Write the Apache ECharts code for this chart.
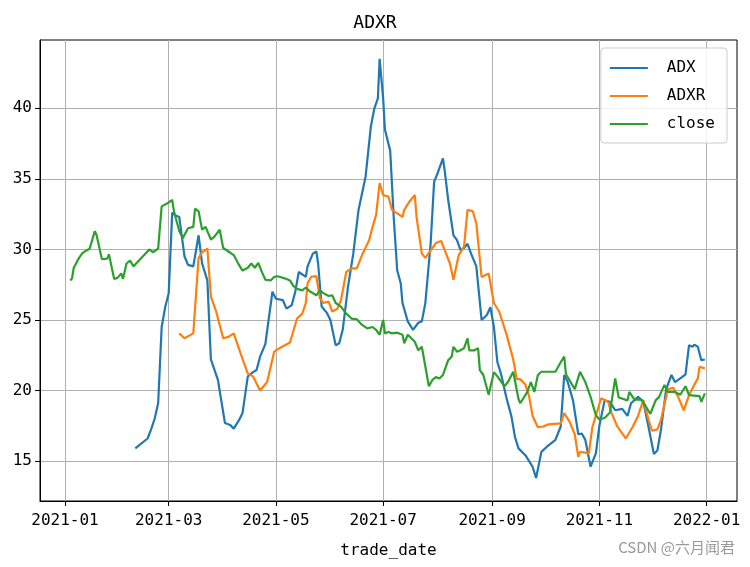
<!DOCTYPE html>
<html>
<head>
<meta charset="utf-8">
<script src="https://cdn.jsdelivr.net/npm/echarts@6/dist/echarts.min.js"></script>
<style>
html,body{margin:0;padding:0;background:#fff;}
#chart{width:750px;height:567px;}
</style>
</head>
<body>
<div id="chart"></div>
<script>
// ---------- data ----------
const seriesNames = ['ADX', 'ADXR', 'close'];

const adxDates = ['2021-02-10','2021-02-17','2021-02-19','2021-02-21','2021-02-23','2021-02-25','2021-02-27','2021-03-01','2021-03-03','2021-03-05','2021-03-07','2021-03-10','2021-03-12','2021-03-15','2021-03-18','2021-03-20','2021-03-23','2021-03-25','2021-03-29','2021-04-02','2021-04-05','2021-04-07','2021-04-10','2021-04-12','2021-04-15','2021-04-18','2021-04-20','2021-04-22','2021-04-25','2021-04-29','2021-05-01','2021-05-05','2021-05-07','2021-05-10','2021-05-12','2021-05-14','2021-05-18','2021-05-19','2021-05-22','2021-05-24','2021-05-25','2021-05-27','2021-05-30','2021-06-01','2021-06-04','2021-06-06','2021-06-08','2021-06-11','2021-06-14','2021-06-17','2021-06-21','2021-06-24','2021-06-26','2021-06-28','2021-06-29','2021-07-01','2021-07-02','2021-07-05','2021-07-07','2021-07-09','2021-07-11','2021-07-12','2021-07-15','2021-07-18','2021-07-21','2021-07-23','2021-07-25','2021-07-28','2021-07-30','2021-08-01','2021-08-04','2021-08-05','2021-08-07','2021-08-10','2021-08-12','2021-08-14','2021-08-16','2021-08-18','2021-08-20','2021-08-23','2021-08-26','2021-08-29','2021-08-31','2021-09-02','2021-09-04','2021-09-06','2021-09-09','2021-09-12','2021-09-14','2021-09-16','2021-09-20','2021-09-24','2021-09-26','2021-09-29','2021-10-02','2021-10-07','2021-10-10','2021-10-12','2021-10-14','2021-10-17','2021-10-20','2021-10-22','2021-10-24','2021-10-27','2021-10-30','2021-11-01','2021-11-04','2021-11-07','2021-11-10','2021-11-14','2021-11-17','2021-11-19','2021-11-23','2021-11-26','2021-11-29','2021-12-02','2021-12-04','2021-12-06','2021-12-09','2021-12-12','2021-12-14','2021-12-18','2021-12-20','2021-12-22','2021-12-24','2021-12-25','2021-12-27','2021-12-29','2021-12-31'];
const adxValues = [15.9,16.6,17.25,18.0,19.1,24.5,25.9,26.9,32.6,32.4,32.3,29.5,28.9,28.8,31.0,29.0,27.8,22.2,20.75,17.7,17.55,17.3,17.9,18.4,21.0,21.3,21.45,22.4,23.3,27.0,26.5,26.4,25.8,26.05,27.0,28.4,28.05,28.8,29.7,29.85,29.0,25.95,25.5,25.0,23.2,23.35,24.3,27.35,29.7,32.8,35.15,38.7,40.0,40.7,43.5,40.7,38.5,37.0,32.3,28.5,27.6,26.2,24.9,24.3,24.8,24.9,26.2,30.4,34.8,35.4,36.45,35.6,33.5,31.0,30.65,29.95,30.1,30.4,29.7,28.8,25.0,25.35,25.9,24.5,22.0,21.2,19.55,18.15,16.7,15.9,15.4,14.6,13.8,15.65,16.0,16.5,17.45,21.1,20.6,19.3,16.9,16.95,16.5,14.6,15.55,17.5,19.3,19.2,18.6,18.7,18.2,19.1,19.55,19.2,17.4,15.5,15.75,17.2,20.1,21.1,20.6,20.95,21.15,23.2,23.1,23.25,23.1,22.15,22.2];

const adxrDates = ['2021-03-07','2021-03-10','2021-03-15','2021-03-18','2021-03-20','2021-03-23','2021-03-25','2021-03-28','2021-04-01','2021-04-04','2021-04-07','2021-04-11','2021-04-15','2021-04-18','2021-04-22','2021-04-26','2021-04-30','2021-05-03','2021-05-09','2021-05-13','2021-05-16','2021-05-18','2021-05-19','2021-05-21','2021-05-24','2021-05-26','2021-05-28','2021-05-31','2021-06-02','2021-06-05','2021-06-07','2021-06-10','2021-06-13','2021-06-16','2021-06-19','2021-06-23','2021-06-25','2021-06-27','2021-06-29','2021-07-01','2021-07-04','2021-07-06','2021-07-09','2021-07-12','2021-07-13','2021-07-16','2021-07-19','2021-07-20','2021-07-23','2021-07-25','2021-07-29','2021-07-31','2021-08-03','2021-08-05','2021-08-08','2021-08-10','2021-08-13','2021-08-16','2021-08-18','2021-08-21','2021-08-23','2021-08-26','2021-08-30','2021-09-02','2021-09-05','2021-09-09','2021-09-13','2021-09-15','2021-09-17','2021-09-20','2021-09-22','2021-09-24','2021-09-27','2021-09-30','2021-10-03','2021-10-10','2021-10-12','2021-10-15','2021-10-18','2021-10-20','2021-10-21','2021-10-26','2021-10-28','2021-11-02','2021-11-06','2021-11-08','2021-11-11','2021-11-16','2021-11-20','2021-11-23','2021-11-26','2021-11-29','2021-12-01','2021-12-04','2021-12-06','2021-12-10','2021-12-13','2021-12-16','2021-12-19','2021-12-22','2021-12-25','2021-12-27','2021-12-28','2021-12-31'];
const adxrValues = [24.05,23.7,24.05,29.4,29.8,30.05,26.65,25.6,23.7,23.8,24.05,22.6,21.2,21.0,20.0,20.6,22.75,23.0,23.4,25.1,25.45,26.2,27.6,28.05,28.1,26.55,26.2,26.3,25.6,25.8,26.4,28.4,28.65,28.65,29.6,30.65,31.6,32.45,34.7,33.85,33.75,32.8,32.55,32.3,32.8,33.4,33.85,32.3,29.7,29.4,30.1,30.45,30.6,29.95,29.0,27.85,29.6,30.2,32.8,32.7,31.85,28.05,28.3,26.2,25.6,24.05,22.2,20.8,20.8,20.4,19.6,18.2,17.4,17.45,17.6,17.67,18.4,17.8,16.9,15.3,15.66,15.55,17.4,19.45,19.2,18.4,17.5,16.6,17.43,18.2,19.32,17.9,17.15,17.25,17.9,20.1,20.2,19.5,18.6,19.67,20.4,20.86,21.68,21.57];

const closeDates = ['2021-01-04','2021-01-05','2021-01-06','2021-01-07','2021-01-09','2021-01-11','2021-01-13','2021-01-15','2021-01-18','2021-01-19','2021-01-22','2021-01-25','2021-01-26','2021-01-29','2021-01-31','2021-02-02','2021-02-03','2021-02-05','2021-02-07','2021-02-09','2021-02-18','2021-02-20','2021-02-23','2021-02-25','2021-02-28','2021-03-03','2021-03-04','2021-03-07','2021-03-09','2021-03-12','2021-03-15','2021-03-16','2021-03-18','2021-03-20','2021-03-22','2021-03-25','2021-03-27','2021-03-30','2021-04-01','2021-04-04','2021-04-07','2021-04-10','2021-04-12','2021-04-15','2021-04-17','2021-04-19','2021-04-21','2021-04-23','2021-04-25','2021-04-28','2021-04-30','2021-05-02','2021-05-06','2021-05-09','2021-05-11','2021-05-13','2021-05-16','2021-05-18','2021-05-20','2021-05-24','2021-05-26','2021-05-28','2021-05-31','2021-06-02','2021-06-04','2021-06-07','2021-06-10','2021-06-13','2021-06-16','2021-06-19','2021-06-22','2021-06-25','2021-06-27','2021-06-29','2021-07-01','2021-07-02','2021-07-04','2021-07-06','2021-07-09','2021-07-12','2021-07-13','2021-07-15','2021-07-17','2021-07-19','2021-07-21','2021-07-23','2021-07-27','2021-07-29','2021-07-31','2021-08-02','2021-08-04','2021-08-05','2021-08-07','2021-08-09','2021-08-10','2021-08-12','2021-08-14','2021-08-16','2021-08-18','2021-08-19','2021-08-22','2021-08-24','2021-08-25','2021-08-27','2021-08-30','2021-09-02','2021-09-04','2021-09-08','2021-09-10','2021-09-13','2021-09-16','2021-09-17','2021-09-21','2021-09-23','2021-09-25','2021-09-27','2021-09-29','2021-10-07','2021-10-10','2021-10-12','2021-10-13','2021-10-18','2021-10-21','2021-10-24','2021-10-27','2021-10-30','2021-11-01','2021-11-04','2021-11-07','2021-11-10','2021-11-12','2021-11-17','2021-11-18','2021-11-21','2021-11-25','2021-11-30','2021-12-03','2021-12-05','2021-12-08','2021-12-10','2021-12-14','2021-12-17','2021-12-20','2021-12-22','2021-12-28','2021-12-29','2021-12-31'];
const closeValues = [27.8,27.95,28.7,28.8,29.4,29.75,29.9,30.05,31.3,31.0,29.3,29.35,29.65,27.9,28.0,28.3,27.9,29.0,29.2,28.8,30.0,29.8,30.05,33.05,33.25,33.5,32.7,31.3,30.8,31.5,31.6,32.9,32.7,31.4,31.6,30.7,30.9,31.4,30.1,29.85,29.6,28.9,28.5,28.7,29.0,28.7,29.05,28.4,27.85,27.8,28.05,28.1,27.95,27.8,27.4,27.2,27.1,27.3,27.05,26.75,27.1,26.9,26.7,26.75,26.2,25.95,25.45,25.1,25.05,24.65,24.4,24.5,24.3,23.95,25.0,24.05,24.15,24.05,24.1,23.95,23.35,23.95,23.7,23.45,22.85,23.1,20.3,20.75,20.95,20.85,21.1,21.45,22.15,22.4,23.1,22.75,22.85,23.0,23.7,22.85,22.85,23.0,21.45,21.1,19.7,21.3,21.0,20.3,20.6,21.33,19.4,19.1,19.9,20.6,19.9,21.1,21.33,21.33,22.0,22.4,21.15,20.1,21.33,20.6,19.55,18.25,17.95,18.05,18.45,20.85,19.5,19.3,19.9,19.35,19.35,18.35,19.3,19.55,20.4,19.9,19.9,19.7,20.3,19.67,19.6,19.2,19.8];

const yTicks = [15, 20, 25, 30, 35, 40];
const xTickLabels = ['2021-01', '2021-03', '2021-05', '2021-07', '2021-09', '2021-11', '2022-01'];
// ---------------------------------------------------

const colors = ['#1f77b4', '#ff7f0e', '#2ca02c'];
const FONT = 'DejaVu Sans Mono';

function toTime(s) {
  const p = s.split('-').map(Number);
  return new Date(p[0], p[1] - 1, p[2] || 1).getTime();
}
function pairs(dates, values) {
  return dates.map((d, i) => [toTime(d), values[i]]);
}
const xTickTimes = xTickLabels.map(toTime);

const chart = echarts.init(document.getElementById('chart'), null, {renderer: 'canvas'});
const option = {
  animation: false,
  backgroundColor: '#fff',
  textStyle: {fontFamily: FONT},
  title: {
    text: 'ADXR', left: 'center', top: 9,
    textStyle: {fontFamily: FONT, fontSize: 18, fontWeight: 'normal', color: '#000'}
  },
  grid: {left: 40, right: 13, top: 40, bottom: 66, show: true, borderColor: '#000', borderWidth: 1, backgroundColor: '#fff'},
  legend: {
    orient: 'vertical', right: 23, top: 48,
    data: seriesNames,
    icon: 'rect', itemWidth: 38, itemHeight: 2, itemGap: 12,
    padding: [12, 12, 11, 9],
    backgroundColor: 'rgba(255,255,255,0.85)', borderColor: '#cccccc', borderWidth: 1, borderRadius: 3,
    textStyle: {fontFamily: FONT, fontSize: 16, color: '#000', padding: [0, 0, 0, 14]}
  },
  xAxis: {
    type: 'value',
    min: new Date(2020, 11, 17, 19).getTime(),
    max: new Date(2022, 0, 18, 7).getTime(),
    name: 'trade_date', nameLocation: 'middle', nameGap: 42,
    nameTextStyle: {fontFamily: FONT, fontSize: 16, color: '#000'},
    axisLine: {show: true, lineStyle: {color: '#000', width: 1}},
    axisTick: {show: true, customValues: xTickTimes, length: 5, lineStyle: {color: '#000'}},
    axisLabel: {
      customValues: xTickTimes, margin: 12, fontFamily: FONT, fontSize: 16, color: '#000',
      formatter: function (v) {
        const d = new Date(v);
        return d.getFullYear() + '-' + String(d.getMonth() + 1).padStart(2, '0');
      }
    },
    splitLine: {show: true, lineStyle: {color: '#b0b0b0', width: 1}}
  },
  yAxis: {
    type: 'value', min: 12.17, max: 44.84,
    axisLine: {show: true, lineStyle: {color: '#000', width: 1}},
    axisTick: {show: true, customValues: yTicks, length: 5, lineStyle: {color: '#000'}},
    axisLabel: {customValues: yTicks, margin: 8, fontFamily: FONT, fontSize: 16, color: '#000'},
    splitLine: {show: true, lineStyle: {color: '#b0b0b0', width: 1}}
  },
  graphic: [{
    type: 'text', right: 15, top: 540,
    style: {text: 'CSDN @六月闻君', fill: '#9a9a9a', font: '15px "Noto Sans CJK SC"'}
  }],
  series: [
    {name: 'ADX', type: 'line', data: pairs(adxDates, adxValues), showSymbol: false, lineStyle: {width: 2.2, color: colors[0]}, itemStyle: {color: colors[0]}},
    {name: 'ADXR', type: 'line', data: pairs(adxrDates, adxrValues), showSymbol: false, lineStyle: {width: 2.2, color: colors[1]}, itemStyle: {color: colors[1]}},
    {name: 'close', type: 'line', data: pairs(closeDates, closeValues), showSymbol: false, lineStyle: {width: 2.2, color: colors[2]}, itemStyle: {color: colors[2]}}
  ]
};
chart.setOption(option);
</script>
</body>
</html>
